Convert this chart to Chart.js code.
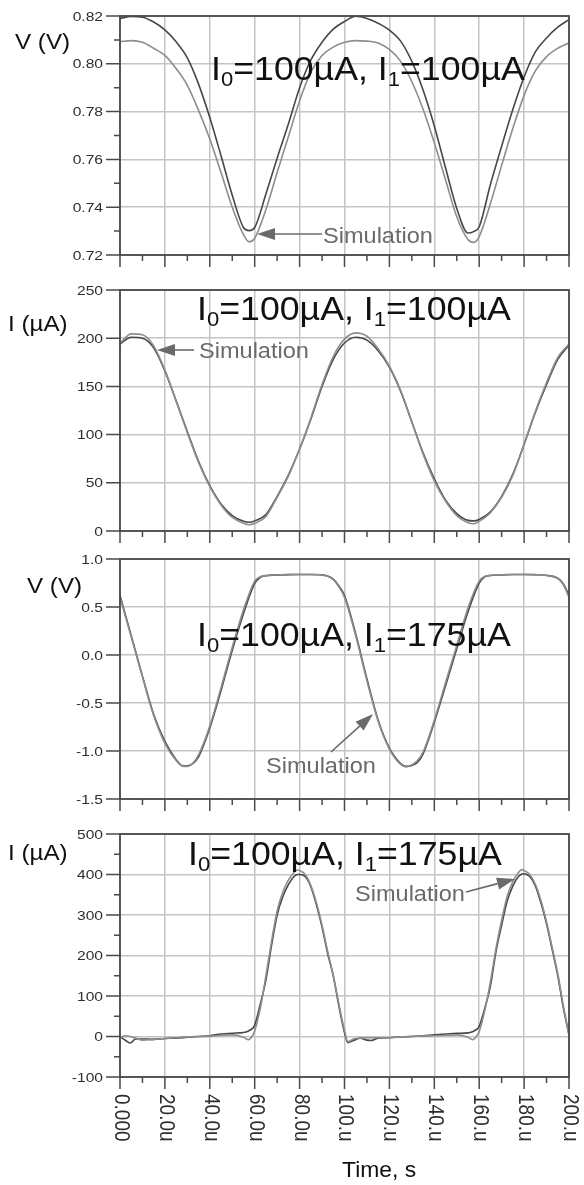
<!DOCTYPE html>
<html><head><meta charset="utf-8">
<script src="https://cdn.jsdelivr.net/npm/chart.js@4.4.1/dist/chart.umd.min.js"></script>
<style>
html,body{margin:0;padding:0;background:#fff;width:584px;height:1185px;overflow:hidden;position:relative}
canvas{position:absolute;left:0}
</style></head><body>
<canvas id="c1" width="584" height="280" style="top:0px"></canvas>
<canvas id="c2" width="584" height="270" style="top:280px"></canvas>
<canvas id="c3" width="584" height="270" style="top:550px"></canvas>
<canvas id="c4" width="584" height="365" style="top:820px"></canvas>
<script>
// ---------- shared x axis ----------
const xTickValues = [0,20,40,60,80,100,120,140,160,180,200];
const xTickLabels = ['0.000','20.0u','40.0u','60.0u','80.0u','100.u','120.u','140.u','160.u','180.u','200.u'];
const xAxisTitle = 'Time, s';

// ---------- panel 1 : V (V), I0=100uA, I1=100uA ----------
const p1Time = [0,5,10,15,20,25,30,35,40,45,50,55,57.5,60,65,70,75,80,85,90,95,100,105,110,115,120,125,130,135,140,145,150,155,157.5,160,165,170,175,180,185,190,195,200];
const p1Meas = [0.819,0.8198,0.8195,0.8175,0.8142,0.8092,0.8025,0.7915,0.7775,0.7615,0.745,0.7315,0.7302,0.7315,0.7455,0.7605,0.7748,0.790,0.8015,0.809,0.8145,0.8177,0.8199,0.819,0.817,0.8141,0.8095,0.801,0.789,0.774,0.7565,0.7395,0.7292,0.7298,0.7318,0.7495,0.7655,0.781,0.7945,0.805,0.8108,0.8153,0.8185];
const p1Sim  = [0.8093,0.8097,0.809,0.8065,0.8035,0.798,0.791,0.7805,0.7685,0.7545,0.740,0.7285,0.7255,0.727,0.739,0.7545,0.7695,0.7845,0.7965,0.8035,0.807,0.809,0.8097,0.8095,0.8087,0.806,0.801,0.7925,0.781,0.767,0.7515,0.736,0.7265,0.7253,0.7277,0.7415,0.7575,0.773,0.7868,0.797,0.803,0.8065,0.8088];
const p1YTicks = [0.72,0.74,0.76,0.78,0.80,0.82];
const p1YLabels = ['0.72','0.74','0.76','0.78','0.80','0.82'];

// ---------- panel 2 : I (uA), I0=100uA, I1=100uA ----------
const p2Time = [0,5,10,15,20,25,30,35,40,45,50,55,57.5,60,65,70,75,80,85,90,95,100,105,110,115,120,125,130,135,140,145,150,155,157.5,160,165,170,175,180,185,190,195,200];
const p2Meas = [194,201,200,190,166,135,103,72,47,28,16,10,9,10.5,17,36,58,85,116,150,178,195,201,198,187,170,145,113,81,54,32,18,11,10.5,12,20,36,59,90,123,152,178,193];
const p2Sim  = [195,204.5,203.5,192,167,135,102,71,46,27,14,8,6.5,8,15,35,57,85,117,152,181,199,205.5,202,189,171,146,113,80,52,31,16,8.5,7.5,10,19,35,58,90,124,154,180,194];
const p2YTicks = [0,50,100,150,200,250];
const p2YLabels = ['0','50','100','150','200','250'];

// ---------- panel 3 : V (V), I0=100uA, I1=175uA ----------
const p3Time = [0,5,10,15,20,25,27.5,30,32.5,35,40,45,50,55,60,62.5,65,70,75,80,85,90,92.5,95,97.5,100,105,110,115,120,125,127.5,130,132.5,135,140,145,150,155,160,162.5,165,170,175,180,185,190,195,197.5,200];
const p3Meas = [0.62,0.2,-0.22,-0.62,-0.9,-1.09,-1.15,-1.155,-1.13,-1.06,-0.76,-0.37,0.05,0.43,0.745,0.81,0.826,0.833,0.837,0.838,0.838,0.835,0.822,0.79,0.72,0.62,0.22,-0.25,-0.68,-0.97,-1.13,-1.16,-1.15,-1.12,-1.03,-0.70,-0.32,0.065,0.45,0.75,0.815,0.828,0.835,0.838,0.838,0.837,0.83,0.80,0.74,0.62];
const p3Sim  = [0.60,0.19,-0.23,-0.63,-0.92,-1.1,-1.155,-1.16,-1.125,-1.04,-0.74,-0.34,0.08,0.47,0.77,0.815,0.828,0.834,0.837,0.838,0.838,0.834,0.82,0.785,0.71,0.60,0.20,-0.27,-0.69,-0.98,-1.14,-1.165,-1.145,-1.10,-1.01,-0.68,-0.29,0.10,0.49,0.77,0.818,0.83,0.836,0.838,0.838,0.836,0.828,0.795,0.73,0.60];
const p3YTicks = [-1.5,-1.0,-0.5,0.0,0.5,1.0];
const p3YLabels = ['-1.5','-1.0','-0.5','0.0','0.5','1.0'];

// ---------- panel 4 : I (uA), I0=100uA, I1=175uA ----------
const p4Time = [0,2.5,4.5,7,10,15,20,25,30,35,40,45,50,55,57,59,60,62.5,65,67.5,70,72.5,75,77.5,79,80,82.5,85,87.5,90,92.5,95,97.5,100,101.5,104,107,110,112,115,120,125,130,135,140,145,150,155,157,159,160,162.5,165,167.5,170,172.5,175,177.5,179,180,182.5,185,187.5,190,192.5,195,197.5,200];
const p4Meas = [0,-10,-16,-6,-6,-7,-5,-4,-2,0,2,6,8,10,13,20,28,80,140,225,300,345,375,395,400,400,395,370,325,270,205,150,75,10,-15,-10,-4,-9,-10,-4,-3,-1,0,2,4,6,8,9,12,18,25,70,125,210,275,335,372,395,401,402,395,372,330,278,215,150,70,5];
const p4Sim  = [-2,2,0,-4,-9,-7,-5,-3,-1,0,1,3,4,-2,-8,2,14,70,150,235,310,356,386,405,411,410,400,373,330,275,210,150,80,15,-13,-6,-4,-3,-3,-3,-3,-1,0,1,2,3,4,-2,-8,2,12,65,135,218,287,347,383,405,412,410,400,376,336,283,220,155,75,3];
const p4YTicks = [-100,0,100,200,300,400,500];
const p4YLabels = ['-100','0','100','200','300','400','500'];

// ---------- texts ----------
const yTitles = ['V (V)','I (\u00B5A)','V (V)','I (\u00B5A)'];
const i1Values = ['100','100','175','175'];
const simLabel = 'Simulation';

// ---------- styles ----------
const FONT = '"Liberation Sans", Arial, Helvetica, sans-serif';
const DARK = '#474747', LIGHT = '#8d8d8d', GRID = '#c4c4c4', FRAME = '#4a4a4a', TXT = '#2e2e2e', ANN = '#6a6a6a';

function sText(ctx, str, x, y, size, sx, color, align, base) {
  ctx.save();
  ctx.font = size + 'px ' + FONT;
  ctx.fillStyle = color;
  ctx.textBaseline = base || 'alphabetic';
  ctx.textAlign = 'left';
  const w = ctx.measureText(str).width * sx;
  const x0 = align === 'right' ? x - w : (align === 'center' ? x - w / 2 : x);
  ctx.translate(x0, y);
  ctx.scale(sx, 1);
  ctx.fillText(str, 0, 0);
  ctx.restore();
  return w;
}

function drawTitle(ctx, x, y, i1) {
  const size = 34, sx = 1.05, sub = 21, dy = 6;
  const parts = [['I', 0], ['0', 1], ['=100\u00B5A, I', 0], ['1', 1], ['=' + i1 + '\u00B5A', 0]];
  let cx = x;
  parts.forEach(p => {
    if (p[1]) cx += sText(ctx, p[0], cx, y + dy, sub, sx, '#111');
    else cx += sText(ctx, p[0], cx, y, size, sx, '#111');
  });
}

function arrow(ctx, x0, y0, x1, y1) {
  ctx.save();
  ctx.strokeStyle = ANN; ctx.fillStyle = ANN; ctx.lineWidth = 1.6;
  const ang = Math.atan2(y1 - y0, x1 - x0), L = 18, W = 6;
  const bx = x1 - L * Math.cos(ang), by = y1 - L * Math.sin(ang);
  ctx.beginPath(); ctx.moveTo(x0, y0); ctx.lineTo(bx, by); ctx.stroke();
  ctx.beginPath();
  ctx.moveTo(x1, y1);
  ctx.lineTo(bx + W * Math.sin(ang), by - W * Math.cos(ang));
  ctx.lineTo(bx - W * Math.sin(ang), by + W * Math.cos(ang));
  ctx.closePath(); ctx.fill();
  ctx.restore();
}

const panels = [
  {id:'c1', top:0,   areaTop:16,  areaBottom:255,  time:p1Time, meas:p1Meas, sim:p1Sim, ticks:p1YTicks, labels:p1YLabels, minor:true,
   yt:{x:15, y:49}, title:{x:211, y:80}, sim_:{x:323, y:243}, arr:[322,234,257,234], xlabels:false},
  {id:'c2', top:280, areaTop:290, areaBottom:531,  time:p2Time, meas:p2Meas, sim:p2Sim, ticks:p2YTicks, labels:p2YLabels, minor:false,
   yt:{x:8, y:331}, title:{x:197, y:320}, sim_:{x:199, y:358}, arr:[194,350,157,350], xlabels:false},
  {id:'c3', top:550, areaTop:559, areaBottom:799,  time:p3Time, meas:p3Meas, sim:p3Sim, ticks:p3YTicks, labels:p3YLabels, minor:false,
   yt:{x:27, y:593}, title:{x:197, y:646}, sim_:{x:266, y:773}, arr:[331,752,373,714], xlabels:false},
  {id:'c4', top:820, areaTop:834, areaBottom:1077, time:p4Time, meas:p4Meas, sim:p4Sim, ticks:p4YTicks, labels:p4YLabels, minor:true,
   yt:{x:8, y:860}, title:{x:188, y:865}, sim_:{x:355, y:901}, arr:[466,892,515,879], xlabels:true}
];

panels.forEach((p, k) => {
  const canvas = document.getElementById(p.id);
  const H = canvas.height, T = p.top;
  const deco = {
    id: 'deco' + k,
    afterDatasetsDraw(chart) {
      const ctx = chart.ctx, a = chart.chartArea, xs = chart.scales.x, ys = chart.scales.y;
      ctx.save();
      ctx.strokeStyle = FRAME;
      ctx.lineWidth = 1.8;
      ctx.strokeRect(a.left, a.top, a.right - a.left, a.bottom - a.top);
      ctx.lineWidth = 1.5;
      ctx.beginPath();
      xTickValues.forEach((v, i) => {
        const px = xs.getPixelForValue(v);
        ctx.moveTo(px, a.bottom); ctx.lineTo(px, a.bottom + 12);
        if (i < xTickValues.length - 1) {
          const pm = xs.getPixelForValue((v + xTickValues[i + 1]) / 2);
          ctx.moveTo(pm, a.bottom); ctx.lineTo(pm, a.bottom + 6);
        }
      });
      p.ticks.forEach((v, i) => {
        const py = ys.getPixelForValue(v);
        ctx.moveTo(a.left, py); ctx.lineTo(a.left - 14, py);
        if (p.minor && i < p.ticks.length - 1) {
          const pm = ys.getPixelForValue((v + p.ticks[i + 1]) / 2);
          ctx.moveTo(a.left, pm); ctx.lineTo(a.left - 6, pm);
        }
      });
      ctx.stroke();
      ctx.restore();
      // y tick labels
      p.ticks.forEach((v, i) => {
        sText(ctx, p.labels[i], a.left - 17, ys.getPixelForValue(v) + 1, 13, 1.2, TXT, 'right', 'middle');
      });
      // x tick labels (rotated clockwise)
      if (p.xlabels) {
        xTickValues.forEach((v, i) => {
          const px = xs.getPixelForValue(v);
          ctx.save();
          ctx.font = '19px ' + FONT;
          ctx.fillStyle = TXT;
          ctx.textBaseline = 'middle';
          ctx.textAlign = 'left';
          ctx.translate(px + 1, a.bottom + 17);
          ctx.scale(1.15, 1);
          ctx.rotate(Math.PI / 2);
          ctx.fillText(xTickLabels[i], 0, 0);
          ctx.restore();
        });
        sText(ctx, xAxisTitle, 342, 1177 - T, 22, 1.04, '#111', 'left');
      }
      // axis title
      sText(ctx, yTitles[k], p.yt.x, p.yt.y - T, 22, 1.1, '#111', 'left');
      // big condition title
      drawTitle(ctx, p.title.x, p.title.y - T, i1Values[k]);
      // simulation annotation
      sText(ctx, simLabel, p.sim_.x, p.sim_.y - T, 22, 1.07, ANN, 'left');
      arrow(ctx, p.arr[0], p.arr[1] - T, p.arr[2], p.arr[3] - T);
    }
  };
  new Chart(canvas, {
    type: 'line',
    data: {
      datasets: [
        {label: 'Simulation', data: p.time.map((t, i) => ({x: t, y: p.sim[i]})), borderColor: LIGHT, borderWidth: 1.6, pointRadius: 0, cubicInterpolationMode: 'monotone', fill: false},
        {label: 'Measured', data: p.time.map((t, i) => ({x: t, y: p.meas[i]})), borderColor: DARK, borderWidth: 1.6, pointRadius: 0, cubicInterpolationMode: 'monotone', fill: false}
      ]
    },
    options: {
      responsive: false, animation: false, devicePixelRatio: 1,
      layout: {padding: {left: 0, right: 15, top: p.areaTop - T, bottom: 0}},
      plugins: {legend: {display: false}, tooltip: {enabled: false}, title: {display: false}},
      scales: {
        x: {
          type: 'linear', min: 0, max: 200,
          afterBuildTicks: s => { s.ticks = xTickValues.map(v => ({value: v})); },
          ticks: {display: false},
          grid: {color: GRID, lineWidth: 1.5, drawTicks: false},
          border: {display: false},
          afterFit: s => { s.height = H - (p.areaBottom - T); }
        },
        y: {
          type: 'linear', min: p.ticks[0], max: p.ticks[p.ticks.length - 1],
          afterBuildTicks: s => { s.ticks = p.ticks.map(v => ({value: v})); },
          ticks: {display: false},
          grid: {color: GRID, lineWidth: 1.5, drawTicks: false},
          border: {display: false},
          afterFit: s => { s.width = 120; }
        }
      }
    },
    plugins: [deco]
  });
});
</script>
</body></html>
